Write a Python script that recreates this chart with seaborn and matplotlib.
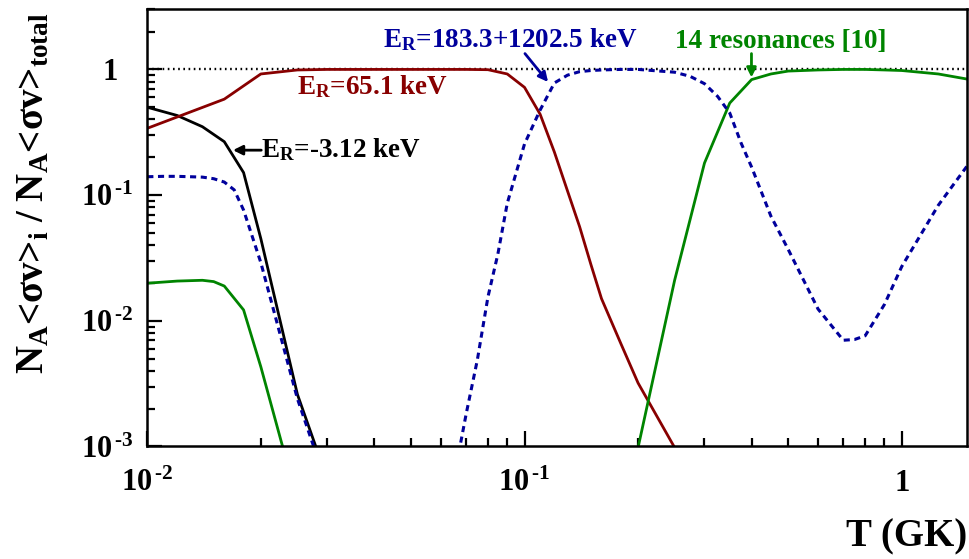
import numpy as np
import pandas as pd
import matplotlib
matplotlib.use('Agg')
import matplotlib.pyplot as plt
import matplotlib.ticker as mticker
import seaborn as sns

# contribution of each component to the total rate, vs temperature (GK)
T_neg = [0.01, 0.012, 0.014, 0.016, 0.018, 0.02, 0.025, 0.03]
ratio_neg = [0.50, 0.43, 0.35, 0.266, 0.151, 0.045, 0.0026, 0.00055]

T_651 = [0.01, 0.016, 0.02, 0.025, 0.03, 0.04, 0.05, 0.06, 0.07, 0.08, 0.09,
         0.1, 0.11, 0.12, 0.13, 0.14, 0.15, 0.16, 0.18, 0.2, 0.25, 0.3]
ratio_651 = [0.34, 0.58, 0.92, 0.99, 1.0, 1.0, 1.0, 1.0, 1.0, 0.995, 0.92,
             0.72, 0.44, 0.22, 0.108, 0.056, 0.028, 0.015, 0.0066, 0.0032, 0.00098, 0.0004]

T_1833 = [0.01, 0.011, 0.012, 0.013, 0.014, 0.015, 0.016, 0.017, 0.018, 0.02, 0.025, 0.03,
          0.06, 0.065, 0.07, 0.075, 0.08, 0.085, 0.09, 0.1, 0.11, 0.12, 0.13, 0.14, 0.15,
          0.16, 0.18, 0.2, 0.25, 0.275, 0.3, 0.325, 0.35, 0.375, 0.4, 0.45, 0.5, 0.6,
          0.7, 0.75, 0.8, 0.9, 1.0, 1.25, 1.5]
ratio_1833 = [0.14, 0.141, 0.141, 0.14, 0.139, 0.135, 0.127, 0.11, 0.076, 0.029, 0.0024, 0.00048,
              0.00017, 0.00056, 0.0018, 0.0049, 0.0155, 0.034, 0.086, 0.255, 0.475, 0.78, 0.9, 0.96, 0.98,
              0.99, 1.0, 1.0, 0.95, 0.88, 0.77, 0.61, 0.45, 0.26, 0.167, 0.068, 0.037, 0.0124,
              0.0070, 0.0071, 0.0076, 0.0135, 0.027, 0.083, 0.175]

T_14res = [0.01, 0.012, 0.014, 0.015, 0.016, 0.018, 0.02, 0.025, 0.18, 0.2, 0.25, 0.3,
           0.35, 0.4, 0.45, 0.5, 0.6, 0.7, 0.8, 0.9, 1.0, 1.25, 1.5]
ratio_14res = [0.0199, 0.0207, 0.021, 0.0205, 0.0189, 0.0122, 0.0043, 0.00037, 0.00024, 0.00098,
               0.021, 0.18, 0.54, 0.83, 0.92, 0.97, 0.99, 1.0, 1.0, 0.99, 0.98, 0.92, 0.835]

RED = '#880000'
BLUE = '#00009c'
GREEN = '#008400'

sns.set_style('ticks')
plt.rcParams['font.family'] = ['Liberation Serif', 'DejaVu Serif']
plt.rcParams['font.weight'] = 'bold'
plt.rcParams['mathtext.fontset'] = 'custom'
plt.rcParams['mathtext.rm'] = 'Liberation Serif:bold'
plt.rcParams['mathtext.bf'] = 'Liberation Serif:bold'
plt.rcParams['mathtext.it'] = 'Liberation Serif:bold:italic'
plt.rcParams['mathtext.default'] = 'rm'
for k in ['text.color', 'axes.labelcolor', 'xtick.color', 'ytick.color', 'axes.edgecolor']:
    plt.rcParams[k] = 'black'

fig = plt.figure(figsize=(9.69, 5.59), dpi=100)
ax = fig.add_axes([0.152, 0.2013, 0.846, 0.7818])

ax.axhline(1.0, color='black', lw=1.7, dashes=(0.7, 1.5))
sns.lineplot(x=T_neg, y=ratio_neg, color='black', lw=2, ax=ax)
sns.lineplot(x=T_651, y=ratio_651, color=RED, lw=2, ax=ax)
sns.lineplot(x=T_14res, y=ratio_14res, color=GREEN, lw=2, ax=ax)
sns.lineplot(x=T_1833, y=ratio_1833, color=BLUE, lw=2.2, ax=ax)
ax.lines[-1].set_dashes((2.0, 1.5))

ax.set_xscale('log')
ax.set_yscale('log')
ax.set_xlim(0.01, 1.49)
ax.set_ylim(1e-3, 3.0)


def fmt_x(v, pos):
    e = int(round(np.log10(v)))
    if e == 0:
        return '1'
    return r'$10^{\,\text{-}%d}$' % abs(e)


def fmt_y(v, pos):
    e = int(round(np.log10(v)))
    if e == 0:
        return '1  '
    return r'$10^{\,\text{-}%d}$' % abs(e)


for axis, f in ((ax.xaxis, fmt_x), (ax.yaxis, fmt_y)):
    axis.set_major_locator(mticker.LogLocator(base=10))
    axis.set_minor_locator(mticker.LogLocator(base=10, subs=np.arange(2, 10)))
    axis.set_major_formatter(mticker.FuncFormatter(f))
    axis.set_minor_formatter(mticker.NullFormatter())

ax.tick_params(which='both', direction='in', top=False, right=False, width=1.6, labelsize=22)
ax.tick_params(which='major', length=11)
ax.tick_params(which='minor', length=5.5)
ax.tick_params(axis='y', pad=10)
ax.tick_params(axis='x', pad=16)
for s in ax.spines.values():
    s.set_linewidth(1.8)
    s.set_visible(True)

ax.set_xlabel('')
ax.set_ylabel('')

# annotations
ax.text(0.183, 0.806, r'E$_\mathrm{R}$=65.1 keV', color=RED, fontsize=19.5,
        fontweight='bold', transform=ax.transAxes, ha='left', va='baseline')
ax.text(0.139, 0.663, r'E$_\mathrm{R}$=-3.12 keV', color='black', fontsize=19.5,
        fontweight='bold', transform=ax.transAxes, ha='left', va='baseline')
ax.annotate('', xy=(0.1045, 0.678), xytext=(0.139, 0.678), xycoords='axes fraction',
            arrowprops=dict(arrowstyle='-|>', color='black', lw=2, mutation_scale=14,
                            shrinkA=0, shrinkB=0))
ax.text(0.288, 0.9145, r'E$_\mathrm{R}$=183.3+1202.5 keV', color=BLUE, fontsize=19.5,
        fontweight='bold', transform=ax.transAxes, ha='left', va='baseline')
ax.annotate('', xy=(0.4889, 0.834), xytext=(0.4607, 0.899), xycoords='axes fraction',
            arrowprops=dict(arrowstyle='-|>', color=BLUE, lw=2, mutation_scale=14,
                            shrinkA=0, shrinkB=0))
ax.text(0.6435, 0.911, '14 resonances [10]', color=GREEN, fontsize=19.5,
        fontweight='bold', transform=ax.transAxes, ha='left', va='baseline')
ax.annotate('', xy=(0.737, 0.8444), xytext=(0.737, 0.899), xycoords='axes fraction',
            arrowprops=dict(arrowstyle='-|>', color=GREEN, lw=2, mutation_scale=14,
                            shrinkA=0, shrinkB=0))

fig.text(0.998, 0.022, 'T (GK)', fontsize=28, fontweight='bold', ha='right', va='baseline')
fig.text(0.035, 0.655, r'N$_\mathrm{A}$<σv>$_\mathrm{i}$ / N$_\mathrm{A}$<σv>$_\mathrm{total}$',
         fontsize=28, fontweight='bold', rotation=90, ha='center', va='center')

fig.savefig('out.png', dpi=100)
